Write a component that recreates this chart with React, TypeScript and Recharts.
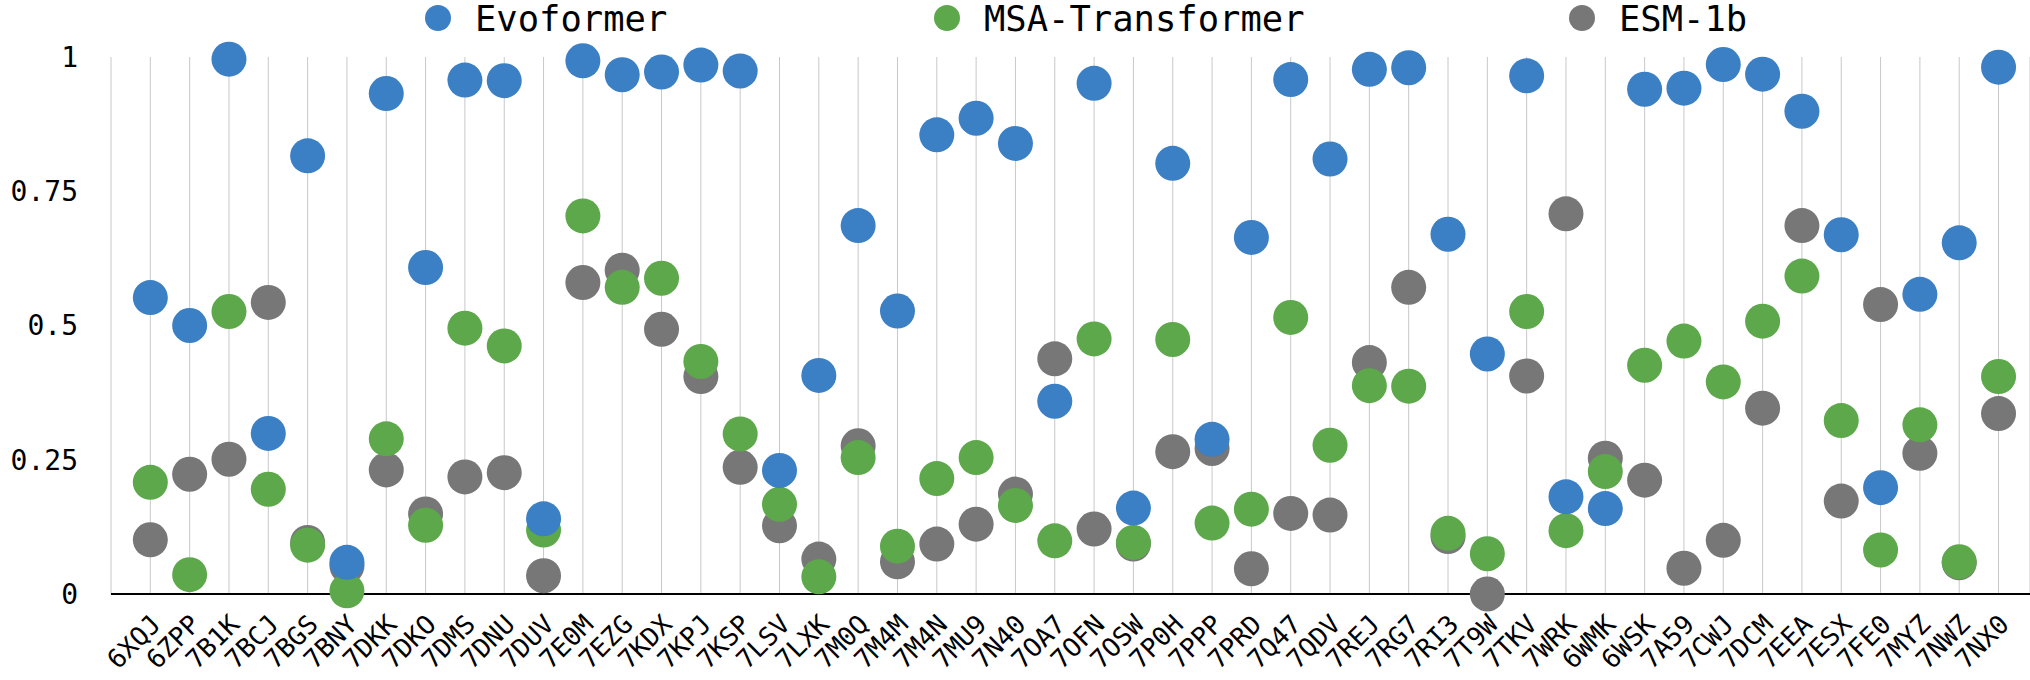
import React from "react";
import { ScatterChart, Scatter, XAxis, YAxis, CartesianGrid } from "recharts";

const categories = [
  "6XQJ", "6ZPP", "7B1K", "7BCJ", "7BGS", "7BNY", "7DKK", "7DKO", "7DMS", "7DNU",
  "7DUV", "7E0M", "7EZG", "7KDX", "7KPJ", "7KSP", "7LSV", "7LXK", "7M0Q", "7M4M",
  "7M4N", "7MU9", "7N40", "7OA7", "7OFN", "7OSW", "7P0H", "7PPP", "7PRD", "7Q47",
  "7QDV", "7REJ", "7RG7", "7RI3", "7T9W", "7TKV", "7WRK", "6WMK", "6WSK", "7A59",
  "7CWJ", "7DCM", "7EEA", "7ESX", "7FE0", "7MYZ", "7NWZ", "7NX0",
];

const evoformer = [
  0.552, 0.5, 0.996, 0.299, 0.816, 0.059, 0.932, 0.608, 0.957, 0.956,
  0.14, 0.993, 0.967, 0.972, 0.985, 0.974, 0.23, 0.407, 0.686, 0.527,
  0.855, 0.886, 0.839, 0.359, 0.951, 0.16, 0.802, 0.288, 0.664, 0.958,
  0.81, 0.977, 0.98, 0.67, 0.447, 0.965, 0.181, 0.159, 0.94, 0.942,
  0.986, 0.968, 0.899, 0.669, 0.198, 0.558, 0.654, 0.981,
];

const msaTransformer = [
  0.208, 0.036, 0.526, 0.195, 0.091, 0.006, 0.289, 0.128, 0.495, 0.462,
  0.119, 0.704, 0.571, 0.588, 0.433, 0.298, 0.167, 0.032, 0.254, 0.089,
  0.215, 0.254, 0.165, 0.099, 0.475, 0.096, 0.474, 0.132, 0.158, 0.515,
  0.277, 0.388, 0.387, 0.113, 0.075, 0.526, 0.118, 0.228, 0.426, 0.471,
  0.395, 0.508, 0.592, 0.323, 0.082, 0.315, 0.06, 0.405,
];

const esm1b = [
  0.101, 0.223, 0.251, 0.543, 0.096, 0.052, 0.231, 0.149, 0.218, 0.226,
  0.034, 0.58, 0.603, 0.493, 0.405, 0.236, 0.127, 0.065, 0.276, 0.06,
  0.093, 0.13, 0.186, 0.438, 0.121, 0.093, 0.265, 0.271, 0.047, 0.15,
  0.147, 0.431, 0.571, 0.107, 0, 0.406, 0.708, 0.253, 0.212, 0.048,
  0.1, 0.346, 0.686, 0.173, 0.539, 0.262, 0.058, 0.336,
];

const yTicks = [0, 0.25, 0.5, 0.75, 1];

const FONT = '"DejaVu Sans Mono", monospace';
const BLUE = "#3b7fc4";
const GREEN = "#5ca84b";
const GRAY = "#777777";

const toPoints = (values: number[]) => values.map((v, i) => ({ x: i, y: v }));

// one empty slot before the first category, like the original
const xTicks = [-1, ...categories.map((_, i) => i)];

const dot = (color: string) => (props: any) => (
  <circle cx={props.cx} cy={props.cy} r={17.5} fill={color} />
);

function XTick({ x, y, payload }: any) {
  const label = categories[payload.value] ?? "";
  return (
    <text
      transform={`translate(${x + 12},${y + 24}) rotate(-45)`}
      textAnchor="end"
      fontSize={26}
      fontFamily={FONT}
      fill="#000"
    >
      {label}
    </text>
  );
}

const legendItems = [
  { name: "Evoformer", color: BLUE, left: 425 },
  { name: "MSA-Transformer", color: GREEN, left: 934 },
  { name: "ESM-1b", color: GRAY, left: 1569 },
];

export default function App() {
  return (
    <div style={{ position: "relative", width: 2030, height: 680, background: "#fff" }}>
      <style>{"body{margin:0}"}</style>
      {legendItems.map((item) => (
        <div
          key={item.name}
          style={{
            position: "absolute",
            left: item.left,
            top: 0,
            height: 36,
            display: "flex",
            alignItems: "center",
            fontFamily: FONT,
            fontSize: 35.5,
            color: "#000",
            whiteSpace: "nowrap",
          }}
        >
          <span
            style={{
              display: "inline-block",
              width: 26,
              height: 26,
              borderRadius: "50%",
              background: item.color,
              marginRight: 24,
            }}
          />
          {item.name}
        </div>
      ))}
      <ScatterChart
        width={2030}
        height={680}
        margin={{ top: 57, right: 0, bottom: 0, left: 0 }}
      >
        <CartesianGrid horizontal={false} stroke="#c8c8c8" strokeWidth={1} />
        <XAxis
          type="number"
          dataKey="x"
          domain={[-1, 47.8]}
          ticks={xTicks}
          interval={0}
          tickLine={false}
          axisLine={{ stroke: "#000", strokeWidth: 2 }}
          tick={<XTick />}
          height={86}
        />
        <YAxis
          type="number"
          dataKey="y"
          domain={[0, 1]}
          ticks={yTicks}
          width={111}
          axisLine={false}
          tickLine={false}
          tickSize={0}
          tickMargin={33}
          tickFormatter={(v) => String(v)}
          tick={{ fontSize: 28, fontFamily: FONT, fill: "#000" }}
        />
        <Scatter
          name="ESM-1b"
          data={toPoints(esm1b)}
          fill={GRAY}
          shape={dot(GRAY)}
          isAnimationActive={false}
        />
        <Scatter
          name="MSA-Transformer"
          data={toPoints(msaTransformer)}
          fill={GREEN}
          shape={dot(GREEN)}
          isAnimationActive={false}
        />
        <Scatter
          name="Evoformer"
          data={toPoints(evoformer)}
          fill={BLUE}
          shape={dot(BLUE)}
          isAnimationActive={false}
        />
      </ScatterChart>
    </div>
  );
}
